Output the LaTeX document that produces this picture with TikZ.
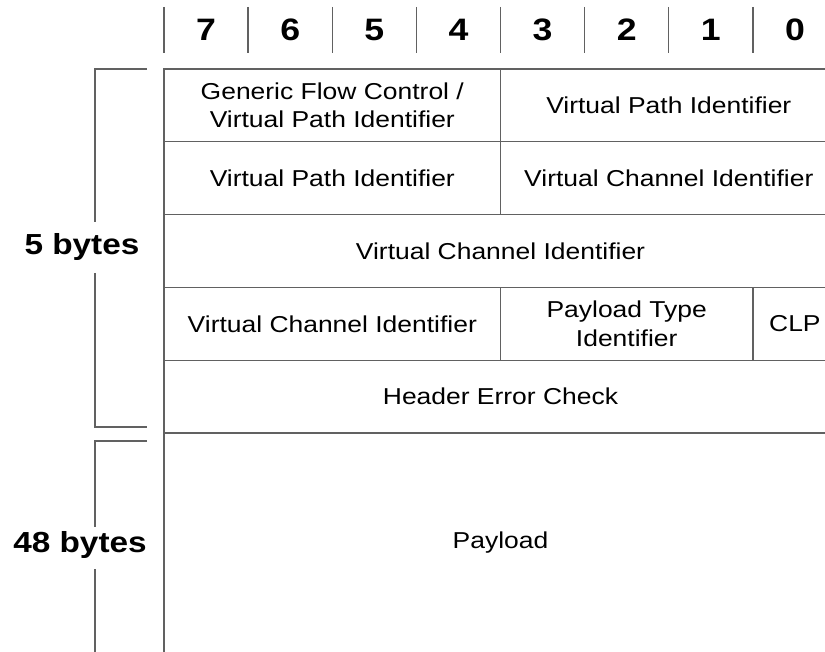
\documentclass[tikz,border=0pt]{standalone}
\usepackage{fontspec}
\setmainfont{Liberation Sans}[FakeStretch=1.15]
\begin{document}
\begin{tikzpicture}[x=1pt,y=-1pt,
  rule/.style={draw=black!62,line width=1.3pt},
  field/.style={font=\fontsize{23}{28.5}\selectfont,align=center,inner sep=0pt},
  bitnum/.style={font=\fontsize{31}{31}\selectfont\bfseries,inner sep=0pt},
  sizelabel/.style={font=\fontsize{29}{29}\selectfont\bfseries,inner sep=0pt}]
\useasboundingbox (0,0) rectangle (825,652);
\clip (0,0) rectangle (825,652);
\def\cw{84.125}

% bit numbers across the top
\foreach \k/\b in {0/7,1/6,2/5,3/4,4/3,5/2,6/1,7/0} {
  \coordinate (st\k) at ({164+\k*\cw},7);
  \coordinate (sb\k) at ({164+\k*\cw},53);
  \draw[rule] (st\k) -- (sb\k);
  \node[bitnum] (bit\b) at ({164+(\k+0.5)*\cw},30) {\b};
}

% cell grid of the header and payload
\coordinate (tl) at (164,69);
\coordinate (tr) at (837,69);
\coordinate (bl) at (164,652);
\draw[rule] (bl) -- (tl) -- (tr);
\foreach \y in {141.8,214.6,287.4,360.2,433}
  \draw[rule] (164,\y) -- (837,\y);
\coordinate (m1) at (500.5,69);
\coordinate (m2) at (500.5,214.6);
\coordinate (m3) at (500.5,287.4);
\coordinate (m4) at (500.5,360.2);
\coordinate (c1) at (752.9,287.4);
\coordinate (c2) at (752.9,360.2);
\draw[rule] (m1) -- (m2);
\draw[rule] (m3) -- (m4);
\draw[rule] (c1) -- (c2);

% field names
\node[field] (gfc)  at (332.3,105.4) {Generic Flow Control /\\Virtual Path Identifier};
\node[field] (vpia) at (668.8,105.4) {Virtual Path Identifier};
\node[field] (vpib) at (332.3,178.2) {Virtual Path Identifier};
\node[field] (vcia) at (668.8,178.2) {Virtual Channel Identifier};
\node[field] (vcib) at (500.5,251)   {Virtual Channel Identifier};
\node[field] (vcic) at (332.3,323.8) {Virtual Channel Identifier};
\node[field] (pti)  at (626.7,323.8) {Payload Type\\Identifier};
\node[field] (clp)  at (794.9,323.8) {CLP};
\node[field] (hec)  at (500.5,396.6) {Header Error Check};
\node[field] (pl)   at (500.5,543)   {Payload};

% size brackets on the left
\node[sizelabel] (five) at (82,247) {5 bytes};
\node[sizelabel] (fortyeight) at (80,545) {48 bytes};
\coordinate (a1) at (147,69);
\coordinate (a2) at (95,222);
\coordinate (a3) at (95,273);
\coordinate (a4) at (147,427);
\draw[rule] (a1) -| (a2);
\draw[rule] (a3) |- (a4);
\coordinate (b1) at (147,441);
\coordinate (b2) at (95,527);
\coordinate (b3) at (95,569);
\coordinate (b4) at (95,652);
\draw[rule] (b1) -| (b2);
\draw[rule] (b3) -- (b4);
\end{tikzpicture}
\end{document}
